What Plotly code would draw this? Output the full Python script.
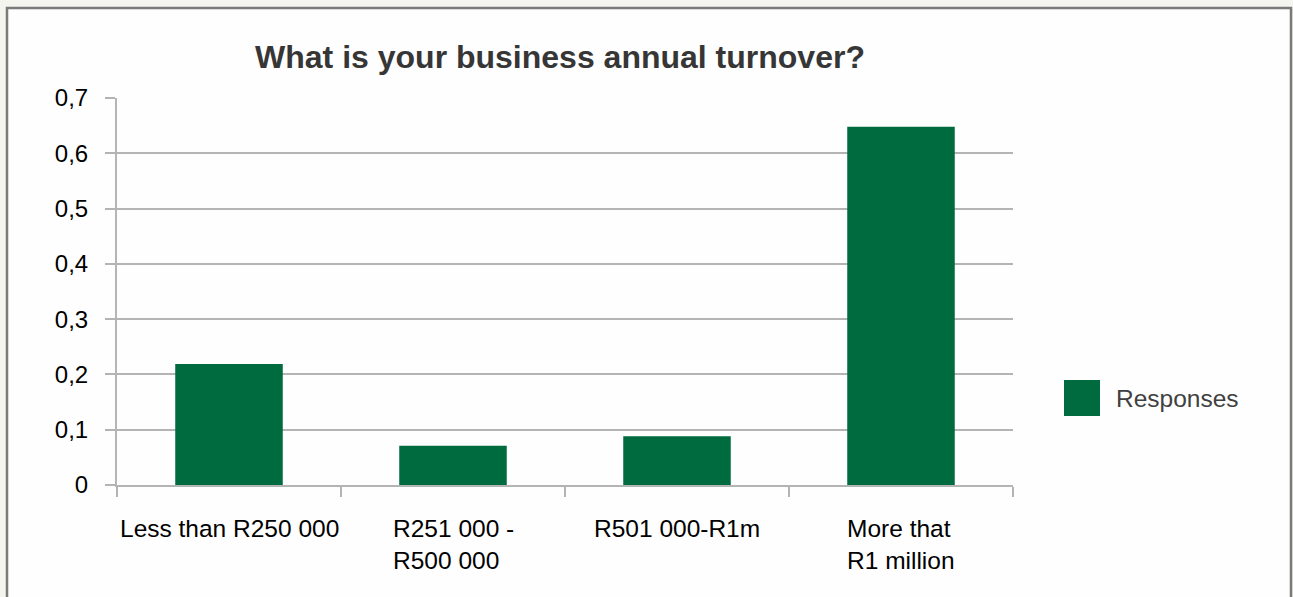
import plotly.graph_objects as go

# Survey answers: share of respondents per annual-turnover band
categories = ["Less than R250 000", "R251 000 - R500 000", "R501 000-R1m", "More that R1 million"]
label_lines = [["Less than R250 000"], ["R251 000 -", "R500 000"], ["R501 000-R1m"], ["More that", "R1 million"]]
responses = [0.219, 0.071, 0.088, 0.648]
series_name = "Responses"
title_text = "What is your business annual turnover?"
y_ticks = [0, 0.1, 0.2, 0.3, 0.4, 0.5, 0.6, 0.7]

W, H = 1293, 597
ML, MR, MT, MB = 117, 280, 98, 112
PW, PH = W - ML - MR, H - MT - MB

GREEN = "#006b3f"
GRID = "#b4b4b4"
FONT = "Liberation Sans, Arial, Helvetica, sans-serif"


def px_x(px):
    return (px - ML) / PW


def px_y(py):
    return (H - MB - py) / PH


fig = go.Figure()
fig.add_trace(go.Bar(
    x=categories,
    y=responses,
    name=series_name,
    marker=dict(color=GREEN, line=dict(width=0)),
    showlegend=False,
))

annotations = []
# wrapped category labels, left-aligned lines in a centred block
for cat, lines in zip(categories, label_lines):
    annotations.append(dict(
        x=cat, xref="x", y=0, yref="paper",
        text="<br>".join(lines), showarrow=False,
        xanchor="center", yanchor="top", align="left",
        yshift=-28,
        font=dict(family=FONT, size=24.5, color="#000000"),
    ))

# legend entry
annotations.append(dict(
    x=px_x(1114), xref="paper", y=px_y(398), yref="paper",
    text=series_name, showarrow=False, xanchor="left", yanchor="middle",
    font=dict(family=FONT, size=24.5, color="#404040"),
))

shapes = [
    # chart frame
    dict(type="rect", xref="paper", yref="paper",
         x0=px_x(7), x1=px_x(1291), y0=px_y(640), y1=px_y(8),
         line=dict(color="#7a7a7a", width=2.5), fillcolor="#fefefe", layer="below"),
    # legend swatch
    dict(type="rect", xref="paper", yref="paper",
         x0=px_x(1064), x1=px_x(1100), y0=px_y(416), y1=px_y(380),
         line=dict(width=0), fillcolor=GREEN),
]

fig.update_layout(
    width=W, height=H,
    margin=dict(l=ML, r=MR, t=MT, b=MB),
    paper_bgcolor="#f3f5ee",
    plot_bgcolor="#ffffff",
    separators=", ",
    bargap=0.52,
    title=dict(
        text="<b>" + title_text + "</b>",
        x=px_x(560), xref="paper", xanchor="center",
        y=1 - 57 / H, yref="container", yanchor="middle",
        font=dict(family=FONT, size=32, color="#363636"),
    ),
    annotations=annotations,
    shapes=shapes,
    xaxis=dict(
        showticklabels=False,
        showline=True, linecolor=GRID, linewidth=2,
        ticks="outside", tickson="boundaries", ticklen=10, tickwidth=2, tickcolor=GRID,
        showgrid=False, zeroline=False,
        range=[-0.5, 3.5],
    ),
    yaxis=dict(
        range=[0, 0.7],
        tickvals=y_ticks,
        showline=True, linecolor=GRID, linewidth=2,
        ticks="outside", ticklen=10, tickwidth=2, tickcolor=GRID,
        showgrid=True, gridcolor=GRID, gridwidth=1.5,
        zeroline=False,
        ticklabelstandoff=12,
        tickfont=dict(family=FONT, size=24, color="#000000"),
    ),
)

fig.write_html("out.html")
